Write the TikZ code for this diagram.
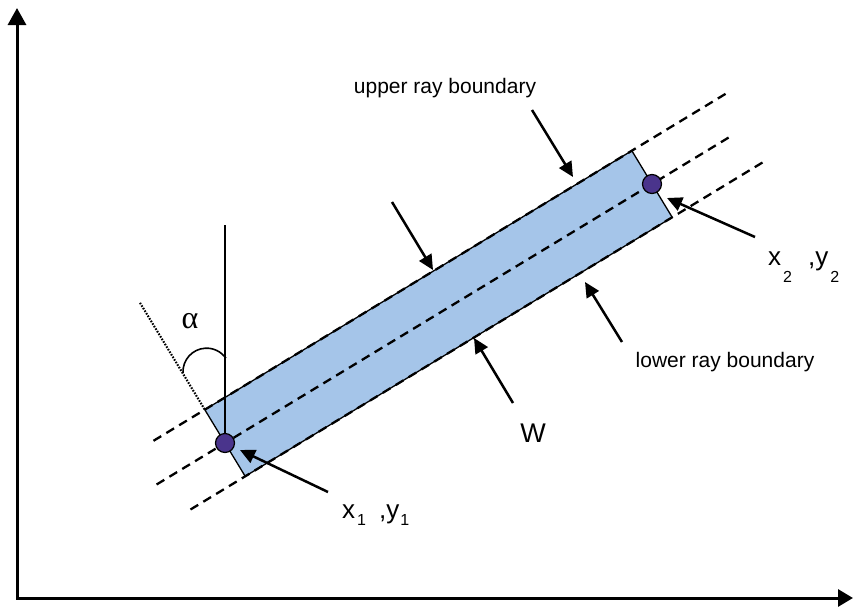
\documentclass[tikz,border=0pt]{standalone}
\usepackage{fontspec}
\setmainfont{Liberation Sans}
\newfontfamily\greekserif{Liberation Serif}
\usetikzlibrary{arrows.meta}
\definecolor{rayfill}{RGB}{165,197,233}
\definecolor{ptfill}{RGB}{74,52,140}
\begin{document}
\begin{tikzpicture}[x=1pt,y=-1pt,
  axis/.style={line width=3pt,{Triangle[length=17pt,width=18pt]}-{Triangle[length=15pt,width=17pt]}},
  pointer/.style={line width=2.5pt,-{Triangle[length=15pt,width=14pt]}},
  rayline/.style={line width=2.3pt,dash pattern=on 9pt off 6pt},
  ptmark/.style={circle,draw=black,line width=1.2pt,fill=ptfill,minimum size=19pt,inner sep=0pt},
  lbl/.style={font=\fontsize{21}{21}\selectfont,inner sep=0pt}]
\useasboundingbox (0,0) rectangle (854,608);
% axes
\coordinate (O) at (17,598);
\coordinate (Ytop) at (17,8);
\coordinate (Xend) at (853,598);
\draw[axis] (Ytop) -- (O) -- (Xend);
% geometry
\coordinate (P1) at (225,443);
\coordinate (P2) at (652,184);
\coordinate (TL) at (204.8,409.7);
\coordinate (BL) at (245.2,476.3);
\coordinate (TR) at (631.8,150.7);
\coordinate (BR) at (672.2,217.3);
\fill[rayfill] (TL) -- (TR) -- (BR) -- (BL) -- cycle;
\draw[line width=1.3pt,line join=miter] (TL) -- (TR) -- (BR) -- (BL) -- cycle;
% ray lines
\coordinate (U0) at (153.5,440.8);
\coordinate (U1) at (728.1,92.3);
\coordinate (C0) at (156.6,484.5);
\coordinate (C1) at (732,135.5);
\coordinate (L0) at (190.5,509.5);
\coordinate (L1) at (763.3,162);
\draw[rayline] (U0) -- (U1);
\draw[rayline] (C0) -- (C1);
\draw[rayline] (L0) -- (L1);
% angle construction
\coordinate (D0) at (140,302.8);
\draw[line width=2.1pt,dash pattern=on 1.6pt off 1.4pt] (D0) -- (TL);
\coordinate (V0) at (225,225);
\draw[line width=1.3pt] (V0) -- (P1);
\coordinate (A0) at (183,373);
\draw[line width=1.6pt] (A0) arc[start angle=177,end angle=325,radius=23.6];
% points
\node[ptmark] (p1) at (P1) {};
\node[ptmark] (p2) at (P2) {};
% labels
\node[lbl,anchor=base] (upper) at (445,93) {upper ray boundary};
\node[lbl,anchor=base] (lower) at (725,367) {lower ray boundary};
\node[font=\fontsize{27}{27}\selectfont,inner sep=0pt,anchor=base] (w) at (533,442) {W};
\node[font=\greekserif\fontsize{32}{32}\selectfont,inner sep=0pt,anchor=base] (alpha) at (190,328) {α};
\node[font=\fontsize{26}{26}\selectfont,inner sep=0pt,anchor=base west] (lab1) at (342,518)
  {x\hspace{2pt}\raisebox{-7pt}{\fontsize{16}{16}\selectfont 1}\hspace{13pt},y\hspace{1pt}\raisebox{-7pt}{\fontsize{16}{16}\selectfont 1}};
\node[font=\fontsize{26}{26}\selectfont,inner sep=0pt,anchor=base west] (lab2) at (768,265)
  {x\hspace{2pt}\raisebox{-17pt}{\fontsize{16}{16}\selectfont 2}\hspace{16pt},y\hspace{2pt}\raisebox{-17pt}{\fontsize{16}{16}\selectfont 2}};
% pointer arrows
\coordinate (a1s) at (532,110); \coordinate (a1e) at (573,177);
\coordinate (a2s) at (392,202); \coordinate (a2e) at (433,270);
\coordinate (a3s) at (755,237); \coordinate (a3e) at (667,198);
\coordinate (a4s) at (622,342); \coordinate (a4e) at (585,282);
\coordinate (a5s) at (513,403); \coordinate (a5e) at (474,338);
\coordinate (a6s) at (328,492); \coordinate (a6e) at (240,450);
\draw[pointer] (a1s) -- (a1e);
\draw[pointer] (a2s) -- (a2e);
\draw[pointer] (a3s) -- (a3e);
\draw[pointer] (a4s) -- (a4e);
\draw[pointer] (a5s) -- (a5e);
\draw[pointer] (a6s) -- (a6e);
\end{tikzpicture}
\end{document}
